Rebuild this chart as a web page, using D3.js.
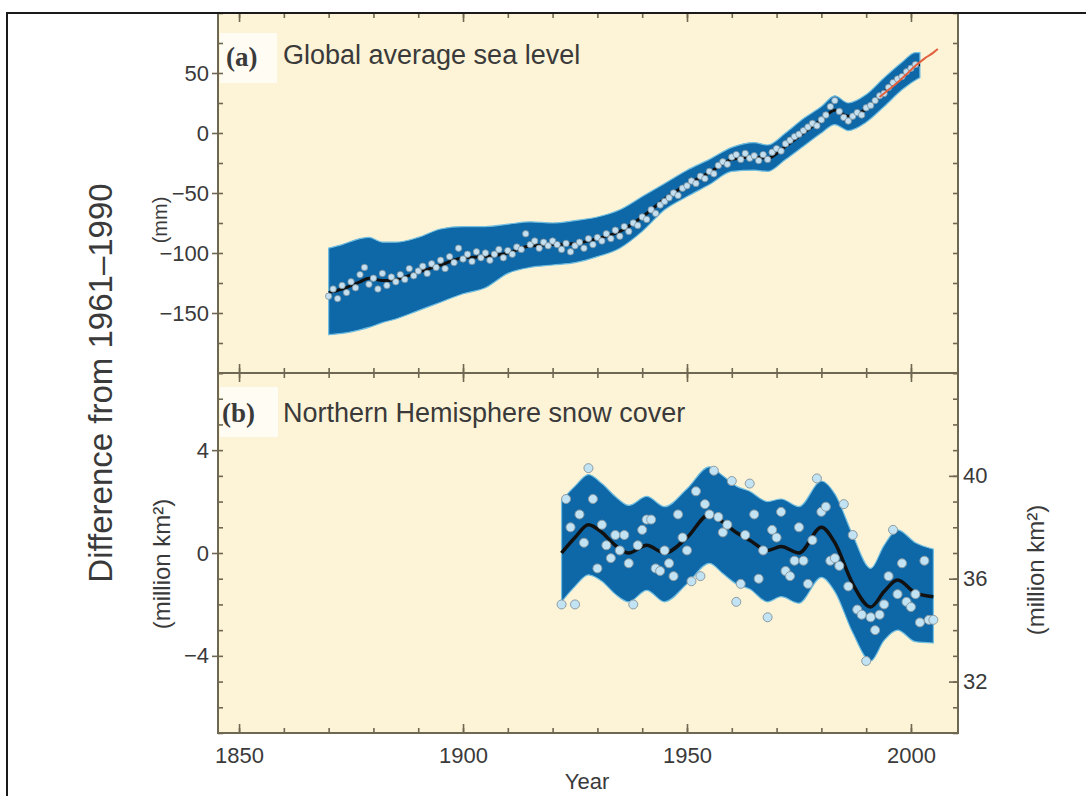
<!DOCTYPE html>
<html>
<head>
<meta charset="utf-8">
<script src="https://cdnjs.cloudflare.com/ajax/libs/d3/7.8.5/d3.min.js"></script>
<style>
  body { margin: 0; background: #fff; }
  text { font-family: "Liberation Sans", Arial, sans-serif; fill: #3a3a3a; }
</style>
</head>
<body>
<script>
// (a) sea level, annual values 1870-2001 (mm, relative to 1961-1990)
const seaYears = d3.range(1870, 2002);
const seaValues = [
  -136, -130, -138, -127, -133, -124, -129, -118, -112, -126,
  -121, -130, -117, -127, -120, -124, -118, -122, -113, -119,
  -115, -111, -117, -109, -112, -106, -113, -103, -108, -96,
  -105, -101, -107, -99, -104, -100, -106, -101, -97, -104,
  -98, -101, -95, -97, -84, -93, -90, -96, -91, -94,
  -90, -93, -97, -92, -99, -94, -91, -96, -88, -93,
  -87, -90, -84, -88, -81, -86, -78, -82, -75, -77,
  -70, -72, -64, -67, -60, -57, -54, -50, -52, -46,
  -44, -40, -42, -36, -38, -32, -34, -27, -24, -26,
  -20, -18, -22, -17, -21, -19, -23, -18, -22, -16,
  -13, -15, -9, -6, -3, -1, 2, 5, 8, 6,
  11, 15, 22, 27, 18, 13, 10, 14, 17, 15,
  21, 23, 27, 31, 33, 38, 42, 45, 47, 51,
  54, 57
];
// smoothed curve and uncertainty band
const seaKeyYears = [1870, 1873, 1877, 1879, 1882, 1885, 1890, 1895, 1900, 1905, 1910, 1915, 1920, 1925, 1930, 1935, 1940, 1945, 1950, 1955, 1960, 1965, 1968, 1972, 1976, 1980, 1983, 1986, 1990, 1994, 1998, 2001, 2002];
const seaSmooth = [-133, -130, -124, -121, -123, -122, -116, -110, -104, -103, -100, -94, -93, -92, -88, -82, -70, -55, -43, -33, -22, -20, -21, -11, 0, 11, 19, 14, 20, 34, 47, 56, 57];
const seaUpper = [-96, -93, -88, -87, -91, -91, -87, -80, -78, -78, -76, -74, -75, -73, -70, -64, -53, -42, -31, -22, -12, -8, -10, 0, 12, 22, 31, 25, 32, 46, 59, 67, 67];
const seaLower = [-168, -167, -164, -162, -158, -155, -148, -141, -134, -129, -117, -112, -110, -108, -103, -96, -82, -64, -53, -43, -32, -31, -32, -22, -11, 0, 7, 2, 9, 22, 36, 44, 46];
// satellite altimetry
const satYears = [1993, 1995, 1997, 1999, 2001, 2003, 2005, 2006];
const satValues = [30, 36, 42, 49, 56, 62, 67, 70];

// (b) NH snow cover, annual values 1922-2005 (million km2)
const snowYears = d3.range(1922, 2006);
const snowValues = [
  -2.0, 2.1, 1.0, -2.0, 1.5, 0.4, 3.3, 2.1, -0.6, 1.1,
  0.3, -0.2, 0.7, 0.1, 0.7, -0.4, -2.0, 0.3, 0.9, 1.3,
  1.3, -0.6, -0.7, 0.1, -0.4, -0.9, 1.5, 0.6, 0.1, -1.1,
  2.4, -0.9, 1.9, 1.5, 3.2, 1.4, 0.8, 1.1, 2.8, -1.9,
  -1.2, 0.7, 2.7, 1.5, -1.0, 0.1, -2.5, 0.9, 0.6, 1.6,
  -0.7, -0.9, -0.3, 1.0, -0.3, -1.2, 0.5, 2.9, 1.6, 1.8,
  -0.3, -0.2, -0.5, 1.9, -1.3, 0.7, -2.2, -2.4, -4.2, -2.5,
  -3.0, -2.4, -2.0, -0.9, 0.9, -1.6, -0.4, -1.9, -2.1, -1.6,
  -2.7, -0.3, -2.6, -2.6
];
const snowKeyYears = [1922, 1925, 1928, 1931, 1934, 1937, 1941, 1945, 1950, 1955, 1958, 1961, 1964, 1968, 1971, 1975, 1980, 1983, 1987, 1991, 1994, 1997, 2001, 2005];
const snowSmooth = [0.0, 0.6, 1.1, 0.8, 0.3, 0.0, 0.3, 0.0, 0.6, 1.5, 1.2, 0.8, 0.5, 0.1, 0.25, 0.0, 1.0, 0.4, -1.2, -2.1, -1.5, -1.05, -1.55, -1.7];
const snowUpper = [2.05, 2.6, 3.05, 2.7, 2.2, 1.85, 2.2, 1.8, 2.5, 3.35, 3.0, 2.6, 2.4, 2.0, 2.1, 1.8, 2.8, 2.3, 0.7, -0.6, 0.3, 0.9, 0.4, 0.15];
const snowLower = [-1.9, -1.3, -0.85, -1.1, -1.6, -1.9, -1.45, -1.9, -1.2, -0.4, -0.8, -1.2, -1.4, -1.9, -1.7, -1.95, -0.95, -1.5, -3.1, -4.2, -3.4, -3.0, -3.45, -3.5];

const majorYears = [1850, 1900, 1950, 2000];
const minorYears = d3.range(1850, 2010, 10);
const seaTicks = [-150, -100, -50, 0, 50];
const seaMinor = d3.range(-200, 101, 25);
const snowTicks = [-4, 0, 4];
const snowMinor = d3.range(-7, 8, 1);
const areaTicks = [32, 36, 40];
const areaMinor = d3.range(30, 45, 1);

const W = 1086, H = 796;
const L = 218, R = 958, T = 13, M = 373, B = 733;
const axisCol = "#6e6752";
const bandCol = "#0e67a7";

const svg = d3.select("body").append("svg").attr("width", W).attr("height", H);

const x = d3.scaleLinear().domain([1845.3, 2010.5]).range([L, R]);
const yA = d3.scaleLinear().domain([-200, 100]).range([M, T]);
const yB = d3.scaleLinear().domain([-7, 7]).range([B, M]);
const yB2 = d3.scaleLinear().domain([30, 44]).range([B, M]);

svg.append("rect").attr("x", L).attr("y", T).attr("width", R - L).attr("height", B - T).attr("fill", "#fdf3d6");

// label patches
svg.append("rect").attr("x", 220).attr("y", 33).attr("width", 57).attr("height", 50).attr("fill", "#fffcf3");
svg.append("rect").attr("x", 220).attr("y", 387).attr("width", 58).attr("height", 50).attr("fill", "#fffcf3");

// ---- panel a
const seaBand = d3.area()
  .x((d, i) => x(seaKeyYears[i]))
  .y0((d, i) => yA(seaLower[i]))
  .y1((d, i) => yA(seaUpper[i]))
  .curve(d3.curveMonotoneX);
svg.append("path").datum(seaKeyYears).attr("d", seaBand)
  .attr("fill", bandCol).attr("stroke", "#6fbde0").attr("stroke-width", 1.2);

svg.append("path").datum(seaKeyYears)
  .attr("d", d3.line().x((d, i) => x(d)).y((d, i) => yA(seaSmooth[i])).curve(d3.curveMonotoneX))
  .attr("fill", "none").attr("stroke", "#111").attr("stroke-width", 3);

svg.append("g").selectAll("circle").data(seaYears).join("circle")
  .attr("cx", d => x(d))
  .attr("cy", (d, i) => yA(seaValues[i]))
  .attr("r", 3.2)
  .attr("fill", "#c4e0f0")
  .attr("stroke", "#7b8f9a")
  .attr("stroke-width", 0.8);

svg.append("path").datum(satYears)
  .attr("d", d3.line().x(d => x(d)).y((d, i) => yA(satValues[i])).curve(d3.curveMonotoneX))
  .attr("fill", "none").attr("stroke", "#e2603e").attr("stroke-width", 2);

// ---- panel b
const snowBand = d3.area()
  .x((d, i) => x(snowKeyYears[i]))
  .y0((d, i) => yB(snowLower[i]))
  .y1((d, i) => yB(snowUpper[i]))
  .curve(d3.curveMonotoneX);
svg.append("path").datum(snowKeyYears).attr("d", snowBand)
  .attr("fill", bandCol).attr("stroke", "#6fbde0").attr("stroke-width", 1.2);

svg.append("path").datum(snowKeyYears)
  .attr("d", d3.line().x(d => x(d)).y((d, i) => yB(snowSmooth[i])).curve(d3.curveMonotoneX))
  .attr("fill", "none").attr("stroke", "#111").attr("stroke-width", 3.5);

svg.append("g").selectAll("circle").data(snowYears).join("circle")
  .attr("cx", d => x(d))
  .attr("cy", (d, i) => yB(snowValues[i]))
  .attr("r", 4.5)
  .attr("fill", "#c2e3f4")
  .attr("stroke", "#8c9ba3")
  .attr("stroke-width", 1);

// ---- axes
function tickSet(axisFn, scale, vals, size, tr) {
  svg.append("g").attr("transform", tr)
    .call(axisFn(scale).tickValues(vals).tickSize(size).tickFormat(""))
    .call(g => g.select(".domain").remove())
    .selectAll("line").attr("stroke", axisCol).attr("stroke-width", 1.6);
}

// x ticks: top, divider, bottom
tickSet(d3.axisBottom, x, minorYears, 5, `translate(0,${T})`);
tickSet(d3.axisBottom, x, majorYears, 9, `translate(0,${T})`);
tickSet(d3.axisTop, x, minorYears, 5, `translate(0,${M})`);
tickSet(d3.axisBottom, x, minorYears, 5, `translate(0,${M})`);
tickSet(d3.axisTop, x, majorYears, 9, `translate(0,${M})`);
tickSet(d3.axisBottom, x, majorYears, 9, `translate(0,${M})`);
tickSet(d3.axisTop, x, minorYears, 5, `translate(0,${B})`);
tickSet(d3.axisTop, x, majorYears, 9, `translate(0,${B})`);

// y ticks
tickSet(d3.axisRight, yA, seaMinor, 5, `translate(${L},0)`);
tickSet(d3.axisLeft, yA, seaTicks, 6, `translate(${L},0)`);
tickSet(d3.axisLeft, yA, seaMinor, 5, `translate(${R},0)`);
tickSet(d3.axisRight, yB, snowMinor, 5, `translate(${L},0)`);
tickSet(d3.axisLeft, yB, snowTicks, 6, `translate(${L},0)`);
tickSet(d3.axisLeft, yB2, areaMinor, 5, `translate(${R},0)`);
tickSet(d3.axisLeft, yB2, areaTicks, 9, `translate(${R},0)`);

// frame of the plot
svg.append("rect").attr("x", L).attr("y", T).attr("width", R - L).attr("height", B - T)
  .attr("fill", "none").attr("stroke", axisCol).attr("stroke-width", 2);
svg.append("line").attr("x1", L).attr("x2", R).attr("y1", M).attr("y2", M)
  .attr("stroke", axisCol).attr("stroke-width", 2);

// outer frame
svg.append("path").attr("d", `M7,${H} V${T} H${W}`)
  .attr("fill", "none").attr("stroke", "#1a1a1a").attr("stroke-width", 2);

// tick labels
function labels(axisFn, scale, vals, pad, tr) {
  svg.append("g").attr("transform", tr)
    .call(axisFn(scale).tickValues(vals).tickSize(0).tickPadding(pad).tickFormat(d3.format("d")))
    .call(g => g.select(".domain").remove())
    .selectAll("text")
    .style("font-family", "'Liberation Sans', Arial, sans-serif")
    .style("font-size", "22px")
    .attr("fill", "#3a3a3a");
}
labels(d3.axisBottom, x, majorYears, 14, `translate(0,${B})`);
labels(d3.axisLeft, yA, seaTicks, 9, `translate(${L},0)`);
labels(d3.axisLeft, yB, snowTicks, 9, `translate(${L},0)`);
labels(d3.axisRight, yB2, areaTicks, 5, `translate(${R},0)`);

// titles
svg.append("text").attr("x", 587).attr("y", 789).attr("text-anchor", "middle")
  .style("font-size", "22px").text("Year");

svg.append("text").attr("transform", "translate(112,383) rotate(-90)")
  .attr("text-anchor", "middle").style("font-size", "33px").text("Difference from 1961–1990");

svg.append("text").attr("transform", "translate(167,220) rotate(-90)")
  .attr("text-anchor", "middle").style("font-size", "20px").text("(mm)");
svg.append("text").attr("transform", "translate(170,564) rotate(-90)")
  .attr("text-anchor", "middle").style("font-size", "24px").text("(million km²)");
svg.append("text").attr("transform", "translate(1044,570) rotate(-90)")
  .attr("text-anchor", "middle").style("font-size", "24px").text("(million km²)");

svg.append("text").attr("x", 226).attr("y", 66)
  .style("font-family", "'Liberation Serif', 'DejaVu Serif', serif").style("font-weight", "bold")
  .style("font-size", "27px").attr("fill", "#1a1a1a").text("(a)");
svg.append("text").attr("x", 283).attr("y", 64).style("font-size", "27px").text("Global average sea level");

svg.append("text").attr("x", 222).attr("y", 422)
  .style("font-family", "'Liberation Serif', 'DejaVu Serif', serif").style("font-weight", "bold")
  .style("font-size", "27px").attr("fill", "#1a1a1a").text("(b)");
svg.append("text").attr("x", 283).attr("y", 422).style("font-size", "27px").text("Northern Hemisphere snow cover");
</script>
</body>
</html>
